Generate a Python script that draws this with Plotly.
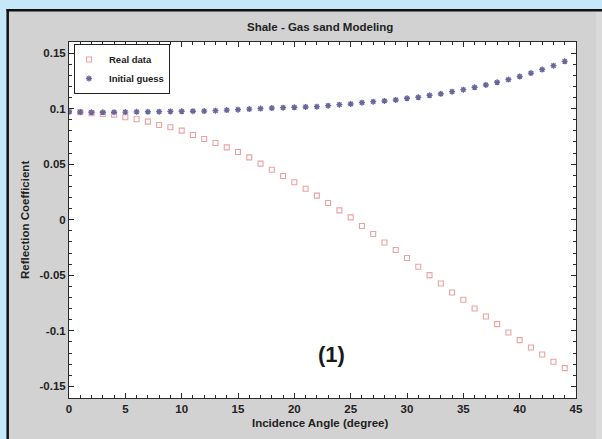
import plotly.graph_objects as go

# ---------------- data ----------------
angles = list(range(45))
real_data = [0.0976, 0.0967, 0.0958, 0.0952, 0.0946, 0.0922, 0.0904, 0.0883, 0.0853, 0.0832,
             0.0802, 0.0763, 0.0727, 0.0691, 0.0651, 0.0610, 0.0561, 0.0505, 0.0450, 0.0393,
             0.0337, 0.0279, 0.0217, 0.0150, 0.0084, 0.0021, -0.0057, -0.0129, -0.0205, -0.0273,
             -0.0345, -0.0423, -0.0499, -0.0574, -0.0655, -0.0721, -0.0799, -0.0871, -0.0940, -0.1015,
             -0.1084, -0.1150, -0.1214, -0.1279, -0.1336]
initial_guess = [0.0972, 0.0969, 0.0967, 0.0967, 0.0968, 0.0969, 0.0971, 0.0972, 0.0973, 0.0975,
                 0.0976, 0.0977, 0.0978, 0.0982, 0.0987, 0.0991, 0.0996, 0.1001, 0.1005, 0.1009,
                 0.1012, 0.1015, 0.1018, 0.1027, 0.1036, 0.1042, 0.1054, 0.1063, 0.1069, 0.1078,
                 0.1093, 0.1102, 0.1120, 0.1134, 0.1153, 0.1171, 0.1192, 0.1213, 0.1237, 0.1262,
                 0.1290, 0.1320, 0.1352, 0.1387, 0.1426]
x_tickvals = [0, 5, 10, 15, 20, 25, 30, 35, 40, 45]
x_ticktext = ["0", "5", "10", "15", "20", "25", "30", "35", "40", "45"]
y_tickvals = [-0.15, -0.1, -0.05, 0, 0.05, 0.1, 0.15]
y_ticktext = ["-0.15", "-0.1", "-0.05", "0", "0.05", "0.1", "0.15"]

# ---------------- layout geometry (pixels) ----------------
W, H = 602, 439
L, R, T, B = 69, 576, 42, 398
PW, PH = R - L, B - T


def px(xp):
    return (xp - L) / PW


def py(yp):
    return (B - yp) / PH


FONT = "Liberation Sans, Arial, sans-serif"
GRAY = "#d2d2d2"
BLUE_BG = "#c6e7f7"
TXT = "#222222"

fig = go.Figure()
fig.add_trace(go.Scatter(
    x=angles, y=real_data, mode="markers", name="Real data",
    marker=dict(symbol="square-open", size=5, color="#eca2a2", line=dict(width=1.1, color="#eca2a2")),
))
fig.add_trace(go.Scatter(
    x=angles, y=initial_guess, mode="markers", name="Initial guess",
    marker=dict(symbol="asterisk-open", size=5, color="#66669c", line=dict(width=1.4, color="#66669c")),
))

axis_common = dict(
    showline=True, linecolor="#2a2a2a", linewidth=1, mirror="ticks",
    ticks="inside", ticklen=5, tickwidth=1, tickcolor="#2a2a2a",
    showgrid=False, zeroline=False,
    tickfont=dict(family=FONT, size=11.5, color=TXT, weight="bold"),
)

fig.update_xaxes(
    range=[0, 45], tickmode="array", tickvals=x_tickvals, ticktext=x_ticktext,
    minor=dict(dtick=1, ticks="inside", ticklen=3, tickcolor="#2a2a2a", showgrid=False),
    **axis_common,
)
fig.update_yaxes(
    range=[-0.1605, 0.16], tickmode="array", tickvals=y_tickvals, ticktext=y_ticktext,
    minor=dict(dtick=0.01, ticks="inside", ticklen=3, tickcolor="#2a2a2a", showgrid=False),
    **axis_common,
)

shapes = [
    # light blue strips outside the gray panel (top and left)
    dict(type="rect", xref="paper", yref="paper", x0=px(0), x1=px(W), y0=py(10), y1=py(0),
         fillcolor=BLUE_BG, line=dict(width=0), layer="above"),
    dict(type="rect", xref="paper", yref="paper", x0=px(0), x1=px(7), y0=py(H), y1=py(0),
         fillcolor=BLUE_BG, line=dict(width=0), layer="above"),
    # slightly lighter strip at the far right edge
    dict(type="rect", xref="paper", yref="paper", x0=px(596), x1=px(W), y0=py(H), y1=py(11),
         fillcolor="#dadada", line=dict(width=0), layer="above"),
    # black frame lines (top, left)
    dict(type="line", xref="paper", yref="paper", x0=px(6.5), x1=px(W), y0=py(10.2), y1=py(10.2),
         line=dict(color="#111111", width=2.5), layer="above"),
    dict(type="line", xref="paper", yref="paper", x0=px(7.7), x1=px(7.7), y0=py(9), y1=py(H),
         line=dict(color="#111111", width=2.5), layer="above"),
]

annotations = [
    dict(text="Reflection Coefficient", xref="paper", yref="paper", x=px(25), y=0.5,
         textangle=-90, showarrow=False, xanchor="center", yanchor="middle",
         font=dict(family=FONT, size=11.5, color=TXT, weight="bold")),
    dict(text="Incidence Angle (degree)", xref="paper", yref="paper", x=px(320), y=py(423),
         showarrow=False, xanchor="center", yanchor="middle",
         font=dict(family=FONT, size=11.5, color=TXT, weight="bold")),
    dict(text="Shale - Gas sand Modeling", xref="paper", yref="paper", x=px(320), y=py(27),
         showarrow=False, xanchor="center", yanchor="middle",
         font=dict(family=FONT, size=11.5, color=TXT, weight="bold")),
    dict(text="(1)", xref="x", yref="y", x=23.3, y=-0.1215,
         showarrow=False, xanchor="center", yanchor="middle",
         font=dict(family=FONT, size=22, color="#1a1a1a", weight="bold")),
]

fig.update_layout(
    width=W, height=H,
    margin=dict(l=L, r=W - R, t=T, b=H - B, pad=0),
    paper_bgcolor=GRAY, plot_bgcolor="white",
    shapes=shapes, annotations=annotations,
    showlegend=True,
    legend=dict(
        x=px(74), y=py(44), xanchor="left", yanchor="top",
        bgcolor="white", bordercolor=TXT, borderwidth=1,
        font=dict(family=FONT, size=9.5, color=TXT, weight="bold"),
        itemwidth=30, tracegroupgap=0, indentation=-6,
    ),
)

fig.write_html(
    "out.html",
    config={"displayModeBar": False},
    post_script="document.body.style.margin='0';document.body.style.padding='0';"
                "document.documentElement.style.overflow='hidden';",
)
